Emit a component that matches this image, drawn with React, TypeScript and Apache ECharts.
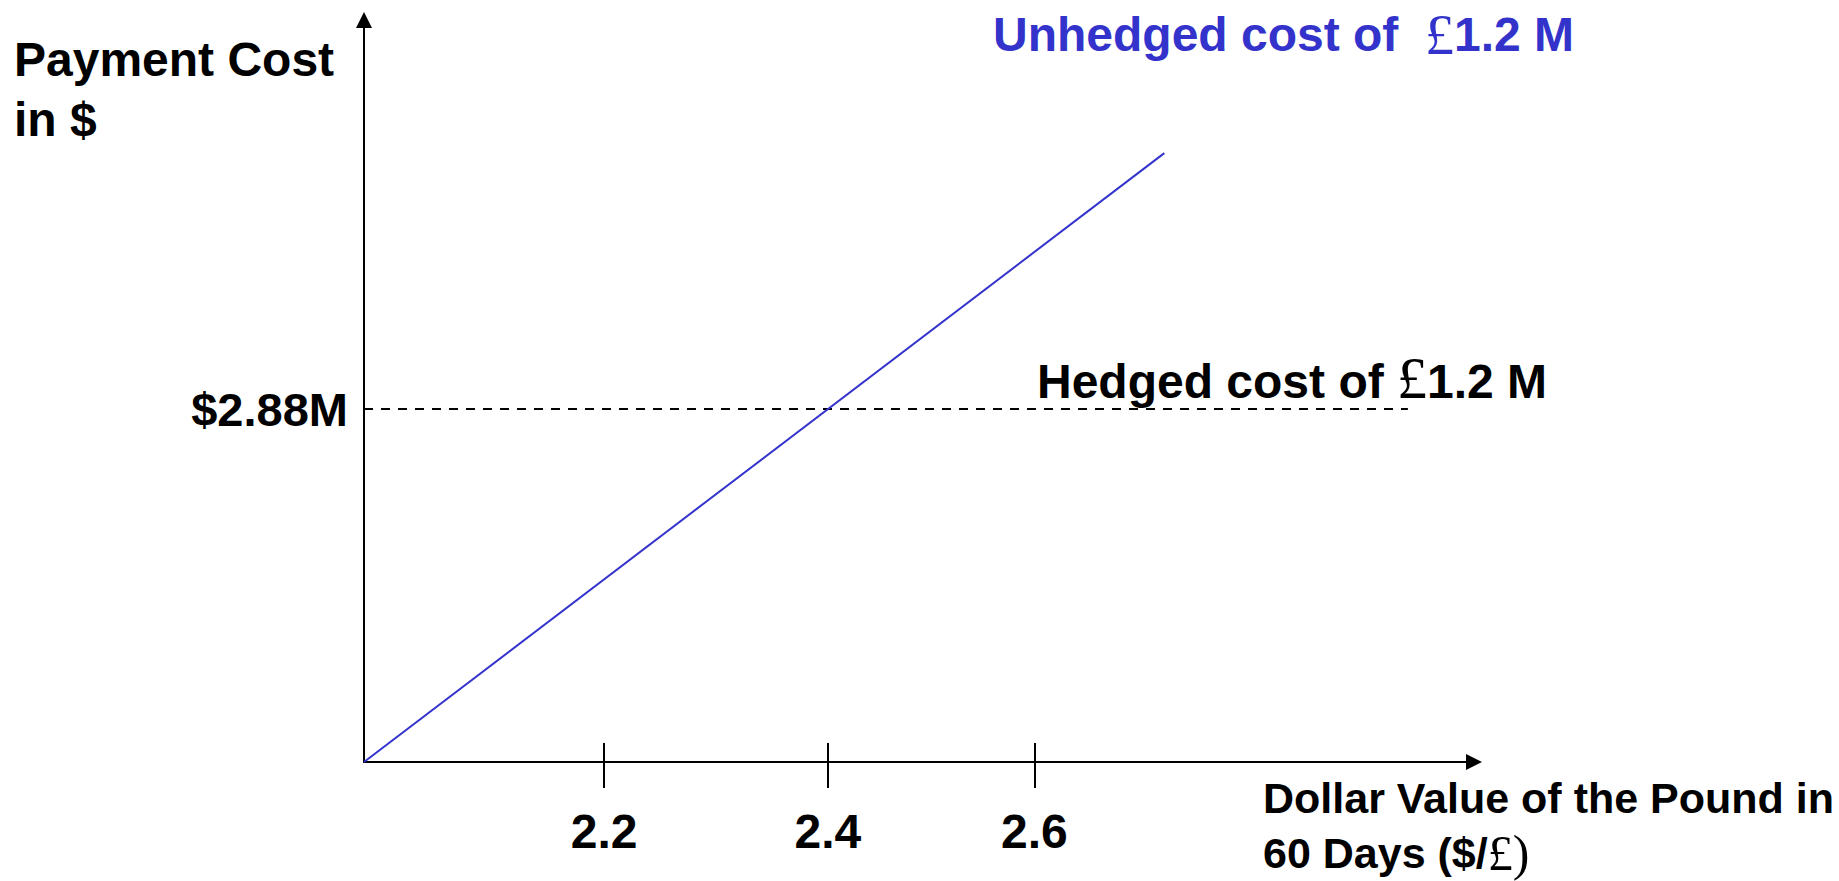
import React, { useEffect, useRef } from "react";
import * as echarts from "echarts";

// ---- data ----
const unhedgedRate = [2.0, 2.69];
const unhedgedCost = [2.4, 3.228];
const hedgedRate = [2.0, 2.9];
const hedgedCost = [2.88, 2.88];

const xTickValues = [2.207, 2.4, 2.578];
const xTickLabels = ["2.2", "2.4", "2.6"];
const yTickValues = [2.88];
const yTickLabels = ["$2.88M"];

const xMin = 2.0;
const xMax = 2.957;
const yMin = 2.4;
const yMax = 3.409;

const SANS = "'Liberation Sans', Arial, Helvetica, sans-serif";
const SERIF = "'Liberation Serif', 'Times New Roman', serif";
const BLUE = "#3333CC";

export default function App() {
  const ref = useRef<HTMLDivElement>(null);

  useEffect(() => {
    if (!ref.current) return;
    const chart = echarts.init(ref.current, undefined, { renderer: "svg" });

    const unhedgedData = unhedgedRate.map((x, i) => [x, unhedgedCost[i]]);
    const hedgedData = hedgedRate.map((x, i) => [x, hedgedCost[i]]);

    const xLabel = (v: number) => {
      const i = xTickValues.findIndex((t) => Math.abs(t - v) < 1e-6);
      return i >= 0 ? xTickLabels[i] : "";
    };
    const yLabel = (v: number) => {
      const i = yTickValues.findIndex((t) => Math.abs(t - v) < 1e-6);
      return i >= 0 ? yTickLabels[i] : "";
    };

    const option: any = {
      animation: false,
      backgroundColor: "#ffffff",
      grid: { left: 364, right: 365, top: 20, bottom: 119, containLabel: false },
      xAxis: [
        {
          type: "value",
          position: "bottom",
          min: xMin,
          max: xMax,
          splitLine: { show: false },
          axisLine: {
            show: true,
            onZero: false,
            symbol: ["none", "triangle"],
            symbolSize: [16, 16],
            lineStyle: { color: "#000", width: 2 },
          },
          axisTick: {
            show: true,
            customValues: xTickValues,
            length: 26,
            lineStyle: { color: "#000", width: 2 },
          },
          axisLabel: {
            show: true,
            customValues: xTickValues,
            formatter: xLabel,
            margin: 45,
            fontSize: 48,
            fontWeight: "bold",
            fontFamily: SANS,
            color: "#000",
          },
        },
        {
          type: "value",
          position: "bottom",
          min: xMin,
          max: xMax,
          splitLine: { show: false },
          axisLine: { show: false, onZero: false },
          axisTick: {
            show: true,
            inside: true,
            customValues: xTickValues,
            length: 19,
            lineStyle: { color: "#000", width: 2 },
          },
          axisLabel: { show: false },
        },
      ],
      yAxis: {
        type: "value",
        min: yMin,
        max: yMax,
        splitLine: { show: false },
        axisLine: {
          show: true,
          onZero: false,
          symbol: ["none", "triangle"],
          symbolSize: [16, 16],
          lineStyle: { color: "#000", width: 2 },
        },
        axisTick: { show: false },
        axisLabel: {
          show: true,
          customValues: yTickValues,
          formatter: yLabel,
          margin: 16,
          padding: [8, 0, 0, 0],
          fontSize: 47,
          fontWeight: "bold",
          fontFamily: SANS,
          color: "#000",
        },
      },
      series: [
        {
          name: "Unhedged cost",
          type: "line",
          data: unhedgedData,
          symbol: "none",
          lineStyle: { color: BLUE, width: 2 },
          itemStyle: { color: BLUE },
          z: 3,
        },
        {
          name: "Hedged cost",
          type: "line",
          data: hedgedData,
          symbol: "none",
          lineStyle: { color: "#000", width: 2, type: [9, 8] },
          itemStyle: { color: "#000" },
          z: 2,
        },
      ],
      graphic: [
        {
          type: "text",
          x: 14,
          y: 59,
          style: {
            text: "Payment Cost",
            fontSize: 48,
            fontWeight: "bold",
            fontFamily: SANS,
            fill: "#000",
            align: "left",
            verticalAlign: "middle",
          },
        },
        {
          type: "text",
          x: 14,
          y: 119,
          style: {
            text: "in $",
            fontSize: 48,
            fontWeight: "bold",
            fontFamily: SANS,
            fill: "#000",
            align: "left",
            verticalAlign: "middle",
          },
        },
        {
          type: "text",
          x: 993,
          y: 34,
          style: {
            text: "Unhedged cost of  {p|£}1.2 M",
            fontSize: 48,
            fontWeight: "bold",
            fontFamily: SANS,
            fill: BLUE,
            align: "left",
            verticalAlign: "middle",
            rich: {
              p: {
                fontSize: 58,
                fontWeight: "normal",
                fontFamily: SERIF,
                fill: BLUE,
              },
            },
          },
        },
        {
          type: "text",
          x: 1037,
          y: 381,
          style: {
            text: "Hedged cost of {p|£}1.2 M",
            fontSize: 48,
            fontWeight: "bold",
            fontFamily: SANS,
            fill: "#000",
            align: "left",
            verticalAlign: "middle",
            rich: {
              p: {
                fontSize: 60,
                fontWeight: "normal",
                fontFamily: SERIF,
                fill: "#000",
                padding: [0, 0, 6, 0],
              },
            },
          },
        },
        {
          type: "text",
          x: 1263,
          y: 798,
          style: {
            text: "Dollar Value of the Pound in",
            fontSize: 43,
            fontWeight: "bold",
            fontFamily: SANS,
            fill: "#000",
            align: "left",
            verticalAlign: "middle",
          },
        },
        {
          type: "text",
          x: 1263,
          y: 853,
          style: {
            text: "60 Days ($/{p|£)}",
            fontSize: 43,
            lineHeight: 44,
            fontWeight: "bold",
            fontFamily: SANS,
            fill: "#000",
            align: "left",
            verticalAlign: "middle",
            rich: {
              p: {
                fontSize: 50,
                lineHeight: 44,
                fontWeight: "normal",
                fontFamily: SERIF,
                fill: "#000",
              },
            },
          },
        },
      ],
    };

    chart.setOption(option);
    return () => chart.dispose();
  }, []);

  return (
    <div
      ref={ref}
      style={{ position: "fixed", left: 0, top: 0, width: 1839, height: 881 }}
    />
  );
}
